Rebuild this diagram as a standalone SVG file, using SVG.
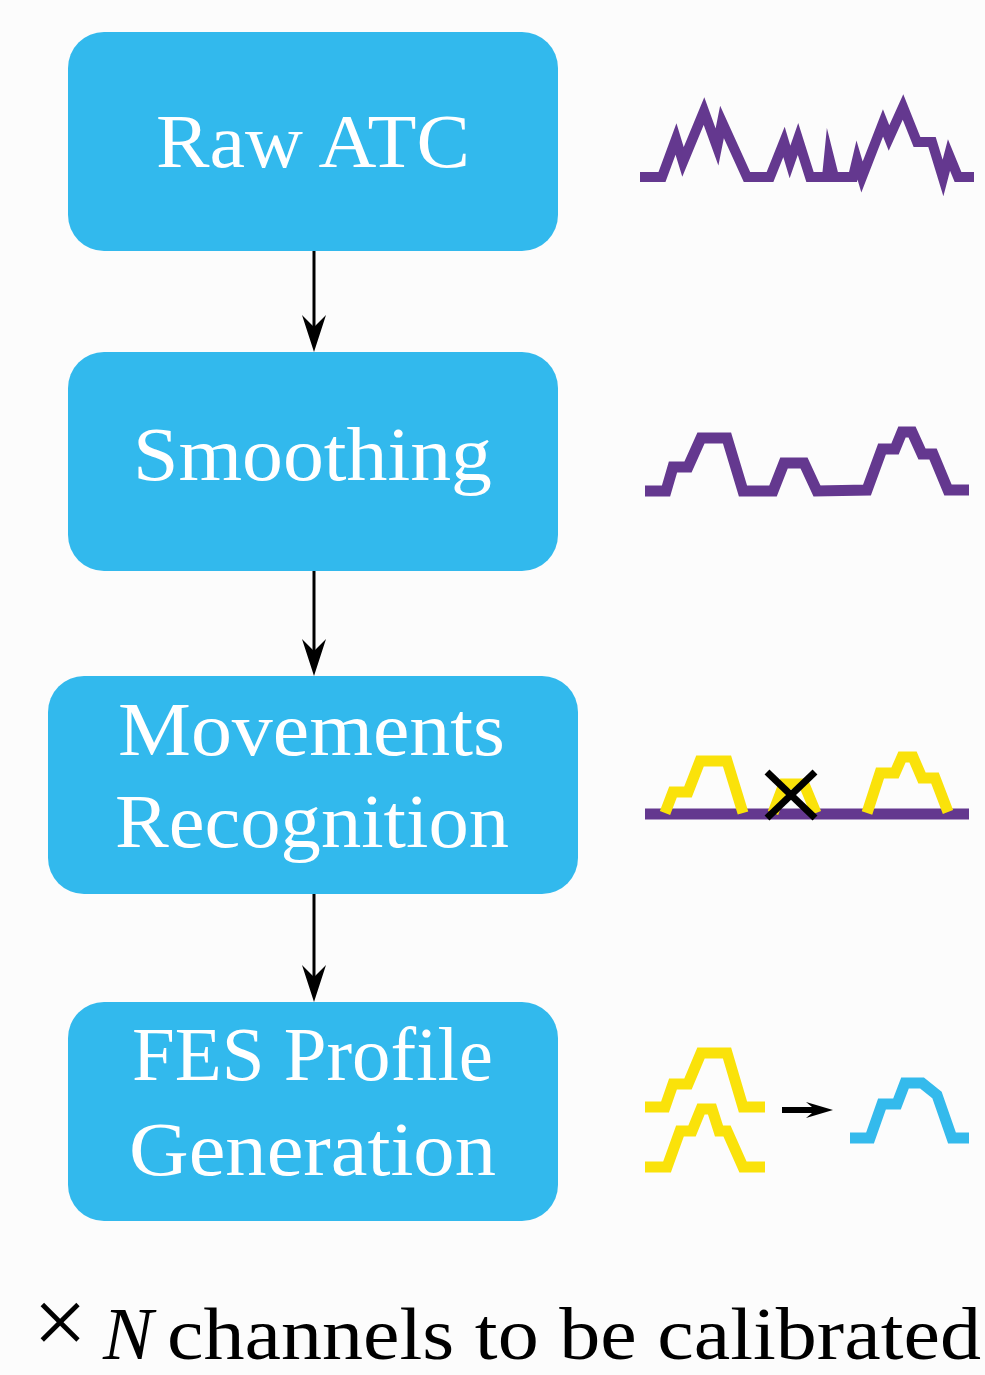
<svg xmlns="http://www.w3.org/2000/svg" width="985" height="1375" viewBox="0 0 985 1375">
<style>
.box{fill:#32b9ed;}
.lbl{font-family:"Liberation Serif","DejaVu Serif",serif;font-size:77px;fill:#ffffff;}
.cap{font-family:"Liberation Serif","DejaVu Serif",serif;font-size:75px;fill:#000000;}
.times{font-size:96px;}
.wave{fill:none;stroke-linejoin:miter;stroke-linecap:butt;stroke-miterlimit:10;}
.pur{stroke:#64388f;}
.yel{stroke:#fae20a;}
.cyan{stroke:#34baec;}
.conn{stroke:#000;stroke-width:3;fill:none;}
</style>
<defs>
<marker id="ah" markerUnits="userSpaceOnUse" markerWidth="40" markerHeight="28" viewBox="-38 -14 40 28" refX="-25" refY="0" orient="auto">
<path d="M0,0 L-37,-12 L-25,0 L-37,12 Z" fill="#000"/>
</marker>
</defs>
<rect x="0" y="0" width="985" height="1375" fill="#fcfcfc"/>

<g id="node-raw-atc">
<rect class="box" x="68" y="32" width="490" height="219" rx="36" ry="36"/>
<text class="lbl" x="156" y="167" textLength="314" lengthAdjust="spacingAndGlyphs">Raw ATC</text>
</g>
<g id="node-smoothing">
<rect class="box" x="68" y="352" width="490" height="219" rx="36" ry="36"/>
<text class="lbl" x="133" y="480" textLength="359" lengthAdjust="spacingAndGlyphs">Smoothing</text>
</g>
<g id="node-movements">
<rect class="box" x="48" y="676" width="530" height="218" rx="36" ry="36"/>
<text class="lbl" x="118" y="755" textLength="387" lengthAdjust="spacingAndGlyphs">Movements</text>
<text class="lbl" x="115" y="847" textLength="394" lengthAdjust="spacingAndGlyphs">Recognition</text>
</g>
<g id="node-fes">
<rect class="box" x="68" y="1002" width="490" height="219" rx="36" ry="36"/>
<text class="lbl" x="132" y="1080" textLength="361" lengthAdjust="spacingAndGlyphs">FES Profile</text>
<text class="lbl" x="129" y="1175" textLength="367" lengthAdjust="spacingAndGlyphs">Generation</text>
</g>

<g id="connectors">
<line class="conn" x1="314" y1="251" x2="314" y2="327" marker-end="url(#ah)"/>
<line class="conn" x1="314" y1="571" x2="314" y2="651" marker-end="url(#ah)"/>
<line class="conn" x1="314" y1="894" x2="314" y2="977" marker-end="url(#ah)"/>
</g>

<g id="wave-raw">
<polyline class="wave pur" stroke-width="10" points="640,177 662,177 676,139 683,162 704,111 717,147 722,122 747,177 770,177 784,142 790,162 798,139 810,177 827,177 829,157 834,177 853,177 857,160 862,177 883,123 889,138 903,107 917,142 932,142 943,178 949,155 958,177 974,177"/>
</g>
<g id="wave-smooth">
<polyline class="wave pur" stroke-width="11" points="645,491 666,491 673,467 688,467 701,438 727,438 743,491 773,491 784,463 804,463 817,491 867,490 882,449 895,449 902,432 912,432 922,454 933,454 948,490 969,490"/>
</g>
<g id="wave-movements">
<line class="wave pur" stroke-width="11" x1="645" y1="814" x2="969" y2="814"/>
<polyline class="wave yel" stroke-width="11" points="665,813 673,792 688,792 700,761 727,761 743,813"/>
<polyline class="wave yel" stroke-width="11" points="773,813 784,784 804,784 816,813"/>
<polyline class="wave yel" stroke-width="11" points="867,813 880,773 895,773 902,757 913,757 922,778 935,778 948,812"/>
<line stroke="#000" stroke-width="7" x1="767" y1="772" x2="815" y2="818"/>
<line stroke="#000" stroke-width="7" x1="815" y1="772" x2="767" y2="818"/>
</g>
<g id="wave-fes">
<polyline class="wave yel" stroke-width="11" points="645,1107 665,1107 673,1084 688,1084 701,1053 727,1053 743,1107 765,1107"/>
<polyline class="wave yel" stroke-width="11" points="645,1167 667,1167 680,1131 692,1131 701,1109 712,1109 719,1131 727,1131 743,1167 765,1167"/>
<path d="M782,1107 L812,1107 L806,1102 L833,1110 L806,1118 L812,1113 L782,1113 Z" fill="#000"/>
<polyline class="wave cyan" stroke-width="11" points="850,1138 870,1138 882,1104 897,1104 905,1083 922,1083 937,1095 952,1138 969,1138"/>
</g>

<g id="caption">
<text class="cap times" x="33" y="1354">×</text>
<text class="cap" x="103" y="1359" font-style="italic">N</text>
<text class="cap" x="167" y="1359" textLength="814" lengthAdjust="spacingAndGlyphs">channels to be calibrated</text>
</g>
</svg>
